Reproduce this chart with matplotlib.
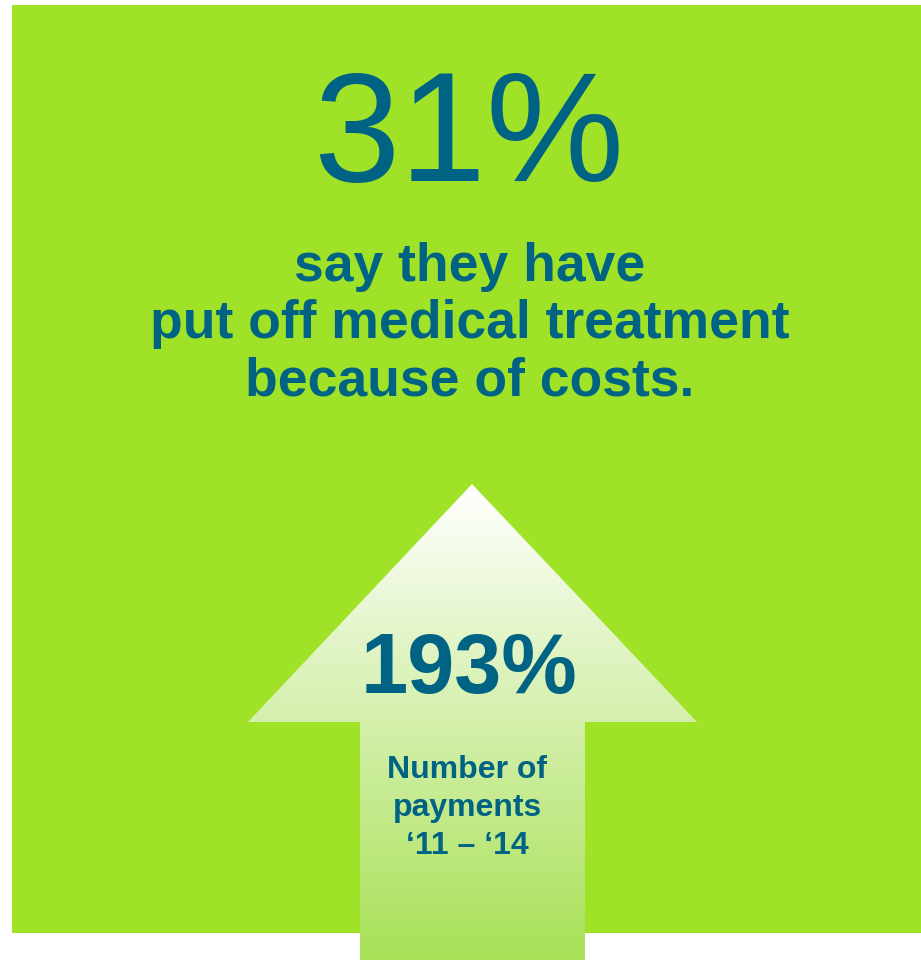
import numpy as np
import matplotlib.pyplot as plt
from matplotlib.patches import Polygon, Rectangle

# values shown on the infographic
main_pct = 31
main_lines = ["say they have", "put off medical treatment", "because of costs."]
arrow_pct = 193
arrow_lines = ["Number of", "payments", "\u201811 \u2013 \u201814"]

green = "#a0e228"
teal = "#006383"

plt.rcParams['font.family'] = ['Liberation Sans', 'DejaVu Sans']

fig = plt.figure(figsize=(9.21, 9.6), dpi=100)
ax = fig.add_axes([0, 0, 1, 1])
ax.set_xlim(0, 921)
ax.set_ylim(960, 0)
ax.axis("off")

# green background panel
ax.add_patch(Rectangle((12, 5), 909, 928, facecolor=green, edgecolor="none", zorder=1))

# up arrow with white -> green gradient
arrow_pts = [(472, 484), (697, 722), (585, 722), (585, 960),
             (360, 960), (360, 722), (248, 722)]
arrow = Polygon(arrow_pts, closed=True, facecolor="none", edgecolor="none", zorder=2)
ax.add_patch(arrow)
top = np.array([1.0, 1.0, 1.0])
bottom = np.array([0.66, 0.88, 0.34])
t = np.linspace(0, 1, 256)[:, None]
grad = top + (bottom - top) * t
img = np.repeat(grad[:, None, :], 2, axis=1)
im = ax.imshow(img, extent=(248, 697, 960, 484), aspect="auto", zorder=2,
               interpolation="bilinear")
im.set_clip_path(arrow)

# headline number
ax.text(469, 181, f"{main_pct}%", ha="center", va="baseline", color=teal,
        fontsize=112, zorder=3)

for i, line in enumerate(main_lines):
    ax.text(470, 281 + i * 57, line, ha="center", va="baseline", color=teal,
            fontsize=38.5, fontweight="bold", zorder=3)

ax.text(469, 693, f"{arrow_pct}%", ha="center", va="baseline", color=teal,
        fontsize=61, fontweight="bold", zorder=3)

for i, line in enumerate(arrow_lines):
    ax.text(467, 778 + i * 38, line, ha="center", va="baseline", color=teal,
            fontsize=23, fontweight="bold", zorder=3)

fig.savefig("out.png", dpi=100, facecolor="white")
